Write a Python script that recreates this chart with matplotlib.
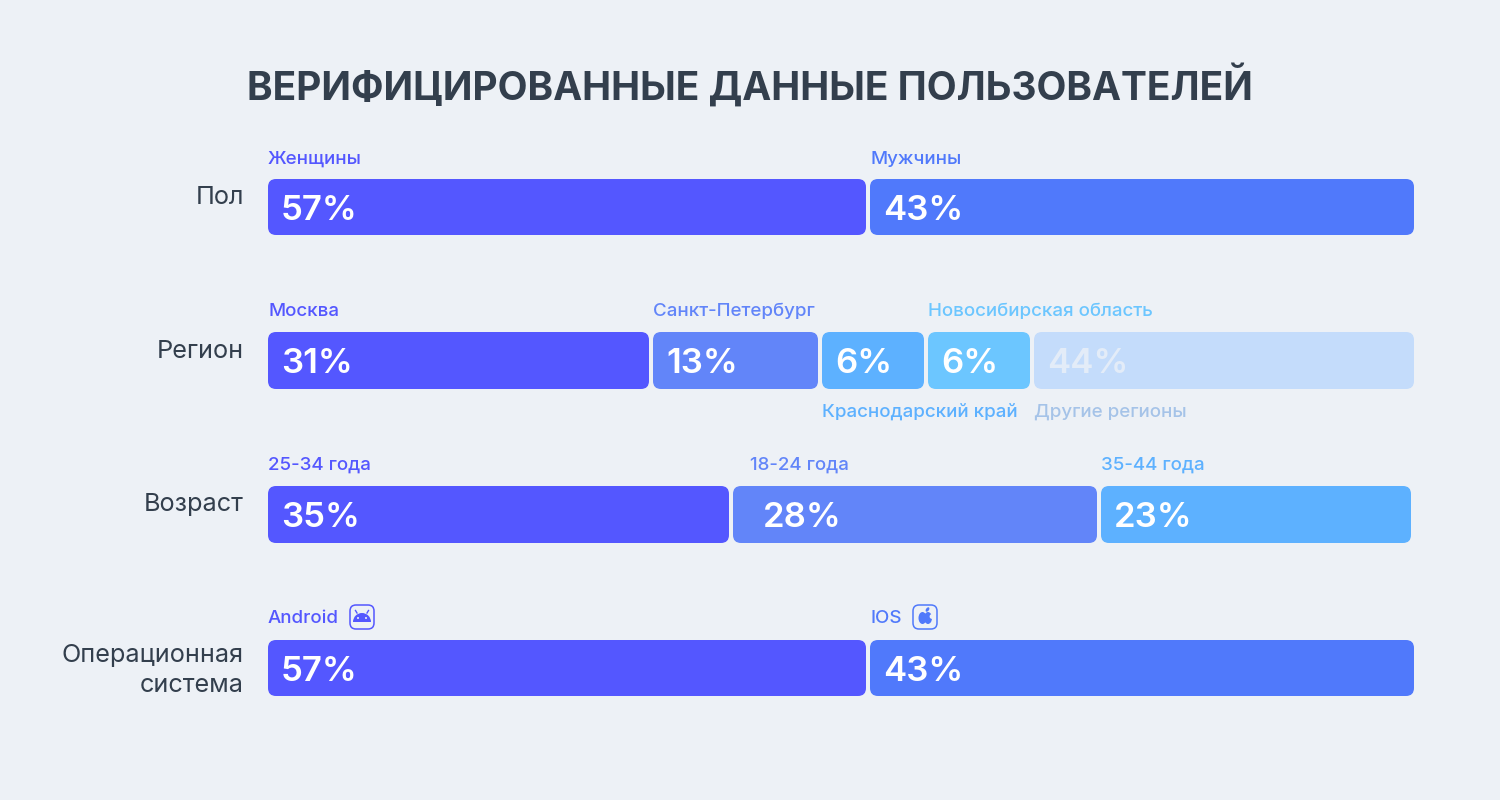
import matplotlib
matplotlib.use("Agg")
import matplotlib.pyplot as plt
from matplotlib.patches import FancyBboxPatch, Ellipse, Wedge, Circle

plt.rcParams['font.family'] = ['Inter', 'DejaVu Sans']

BG = '#EDF1F6'
DARK = '#333F4D'
title = 'ВЕРИФИЦИРОВАННЫЕ ДАННЫЕ ПОЛЬЗОВАТЕЛЕЙ'

row_names = ['Пол', 'Регион', 'Возраст', 'Операционная\nсистема']

gender_labels = ['Женщины', 'Мужчины']
gender_pct = [57, 43]
gender_span = [598, 544]

region_labels = ['Москва', 'Санкт-Петербург', 'Краснодарский край', 'Новосибирская область', 'Другие регионы']
region_pct = [31, 13, 6, 6, 44]
region_span = [381, 165, 102, 102, 380]

age_labels = ['25-34 года', '18-24 года', '35-44 года']
age_pct = [35, 28, 23]
age_span = [461, 364, 310]

os_labels = ['Android', 'IOS']
os_pct = [57, 43]
os_span = [598, 544]

C1, C2, C3, C4, C5, C6 = '#5457FF', '#5079FB', '#6285F9', '#5DB1FF', '#6CC6FF', '#C4DCFB'

fig = plt.figure(figsize=(15, 8), dpi=100, facecolor=BG)
ax = fig.add_axes([0, 0, 1, 1])
ax.set_xlim(0, 1500)
ax.set_ylim(800, 0)
ax.axis('off')


def draw_row(spans, pcts, colors, top, height, pct_colors=None, pct_pad=None):
    x = 268
    starts = []
    for i, (w, p, c) in enumerate(zip(spans, pcts, colors)):
        ax.add_patch(FancyBboxPatch((x + 8, top + 8), w - 16, height - 16,
                                    boxstyle='round,pad=8,rounding_size=8',
                                    fc=c, ec='none'))
        pad = pct_pad[i] if pct_pad else 13
        pc = pct_colors[i] if pct_colors else 'white'
        ax.text(x + pad, top + 41, f'{p}%', color=pc, fontsize=25,
                fontweight='semibold', va='baseline', ha='left')
        starts.append(x)
        x += w + 4
    return starts


def lab(x, y, s, c):
    ax.text(x, y, s, color=c, fontsize=13.5, va='baseline', ha='left', fontweight='medium')


ax.text(750, 100, title, color=DARK, fontsize=28, fontweight='bold', ha='center', va='baseline')

name_fs = 18.2
ax.text(244, 204, row_names[0], color=DARK, fontsize=name_fs, ha='right', va='baseline')
ax.text(244, 358, row_names[1], color=DARK, fontsize=name_fs, ha='right', va='baseline')
ax.text(244, 511, row_names[2], color=DARK, fontsize=name_fs, ha='right', va='baseline')
ax.text(244, 662, row_names[3].split('\n')[0], color=DARK, fontsize=name_fs, ha='right', va='baseline')
ax.text(244, 692, row_names[3].split('\n')[1], color=DARK, fontsize=name_fs, ha='right', va='baseline')

# Gender
s = draw_row(gender_span, gender_pct, [C1, C2], 179, 56)
lab(s[0], 164, gender_labels[0], C1)
lab(s[1], 164, gender_labels[1], C2)

# Region
s = draw_row(region_span, region_pct, [C1, C3, C4, C5, C6], 332, 57,
             pct_colors=['white', 'white', 'white', 'white', '#E3ECF8'])
lab(s[0], 316, region_labels[0], C1)
lab(s[1], 316, region_labels[1], C3)
lab(s[2], 417, region_labels[2], C4)
lab(s[3], 316, region_labels[3], C5)
lab(s[4], 417, region_labels[4], '#A5C3E8')

# Age
s = draw_row(age_span, age_pct, [C1, C3, C4], 486, 57, pct_pad=[13, 30, 13])
lab(s[0], 470, age_labels[0], C1)
lab(750, 470, age_labels[1], C3)
lab(s[2], 470, age_labels[2], C4)

# OS
s = draw_row(os_span, os_pct, [C1, C2], 640, 56)
lab(s[0], 623, os_labels[0], C1)
lab(s[1], 623, os_labels[1], C2)


def icon_box(x, y, c):
    ax.add_patch(FancyBboxPatch((x + 6, y + 6), 12, 12, boxstyle='round,pad=6,rounding_size=6',
                                fc='none', ec=c, lw=1.1))


# Android icon
icon_box(350, 605, C1)
ax.add_patch(Wedge((362, 622), 9, 180, 360, fc=C1, ec='none'))
ax.plot([357, 355.5], [613, 610.5], color=C1, lw=1.0)
ax.plot([367, 368.5], [613, 610.5], color=C1, lw=1.0)
ax.add_patch(Circle((358, 618), 1.0, fc=BG, ec='none'))
ax.add_patch(Circle((366, 618), 1.0, fc=BG, ec='none'))

# Apple icon
icon_box(913, 605, C2)
ax.add_patch(Ellipse((922.5, 618), 8, 12, fc=C2, ec='none'))
ax.add_patch(Ellipse((928, 618), 8, 12, fc=C2, ec='none'))
ax.add_patch(Circle((932, 616.5), 2.4, fc=BG, ec='none'))
ax.add_patch(Ellipse((927.5, 609.5), 3, 5, angle=35, fc=C2, ec='none'))

fig.savefig('out.png', dpi=100, facecolor=BG)
